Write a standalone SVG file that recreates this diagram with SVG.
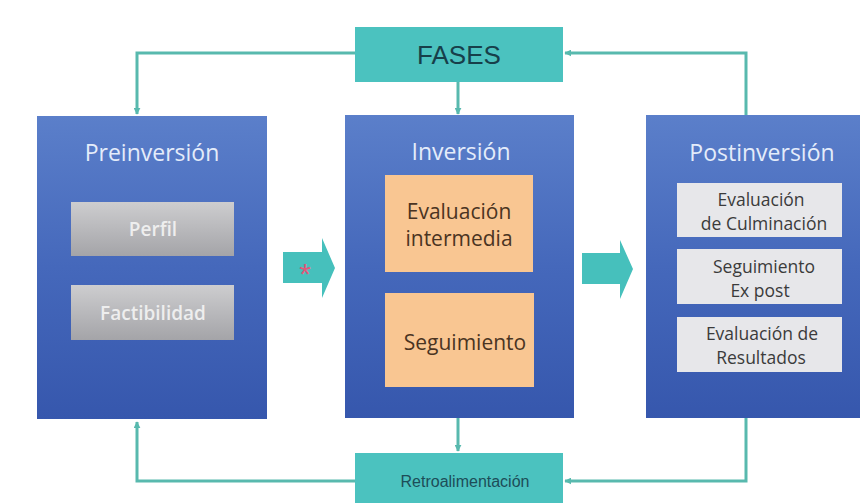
<svg xmlns="http://www.w3.org/2000/svg" width="864" height="503" viewBox="0 0 864 503">
  <defs>
    <linearGradient id="blueGrad" x1="0" y1="0" x2="0" y2="1">
      <stop offset="0" stop-color="#5b7fca"/>
      <stop offset="0.5" stop-color="#4568bb"/>
      <stop offset="1" stop-color="#3657ad"/>
    </linearGradient>
    <linearGradient id="grayGrad" x1="0" y1="0" x2="0" y2="1">
      <stop offset="0" stop-color="#cdcdcf"/>
      <stop offset="1" stop-color="#a4a4a8"/>
    </linearGradient>
    <marker id="ah" viewBox="0 0 10 10" refX="9" refY="5" markerWidth="7" markerHeight="7" markerUnits="userSpaceOnUse" orient="auto">
      <path d="M0,0 L10,5 L0,10 z" fill="#58b9ae"/>
    </marker>
    <style>
      .phase { fill: url(#blueGrad); }
      .title { font-family: "Open Sans", "Liberation Sans", sans-serif; font-size: 23px; fill: #e4ecfa; text-anchor: middle; }
      .gray { fill: url(#grayGrad); }
      .grayTxt { font-family: "Open Sans", "Liberation Sans", sans-serif; font-size: 19px; font-weight: 600; fill: #eeeeee; text-anchor: middle; }
      .orange { fill: #f9c692; }
      .orangeTxt { font-family: "Open Sans", "Liberation Sans", sans-serif; font-size: 21px; font-weight: 500; fill: #4a3422; text-anchor: middle; }
      .light { fill: #e7e7ea; }
      .lightTxt { font-family: "Open Sans", "Liberation Sans", sans-serif; font-size: 17.5px; fill: #3b3b3b; text-anchor: middle; }
      .teal { fill: #4bc2bf; }
      .conn { fill: none; stroke: #58b9ae; stroke-width: 3; marker-end: url(#ah); }
      .block { fill: #46c0bc; }
    </style>
  </defs>

  <rect width="864" height="503" fill="#ffffff"/>

  <g id="connectors">
    <path class="conn" d="M355,53 H137 V114"/>
    <path class="conn" d="M458,82 V114"/>
    <path class="conn" d="M746,116 V53 H565"/>
    <path class="conn" d="M458,418 V451"/>
    <path class="conn" d="M355,481 H137 V422"/>
    <path class="conn" d="M746,418 V481 H565"/>
  </g>

  <g id="fases">
    <rect class="teal" x="355" y="27" width="208" height="55"/>
    <text x="459" y="64" font-family="Liberation Sans, Arial, sans-serif" font-size="26" fill="#173f4a" text-anchor="middle">FASES</text>
  </g>

  <g id="preinversion">
    <rect class="phase" x="37" y="116" width="230" height="303"/>
    <text class="title" x="152" y="161">Preinversión</text>
  </g>
  <g id="perfil">
    <rect class="gray" x="71" y="202" width="163" height="54"/>
    <text class="grayTxt" x="153" y="236">Perfil</text>
  </g>
  <g id="factibilidad">
    <rect class="gray" x="71" y="285" width="163" height="55"/>
    <text class="grayTxt" x="153" y="320">Factibilidad</text>
  </g>

  <g id="arrow1">
    <path class="block" d="M283,252 H322 V238 L335,268 L322,298 V283 H283 z"/>
    <text x="305" y="284" font-family="Liberation Sans, Arial, sans-serif" font-size="30" fill="#e0587a" text-anchor="middle">*</text>
  </g>

  <g id="inversion">
    <rect class="phase" x="345" y="115" width="229" height="303"/>
    <text class="title" x="461" y="160">Inversión</text>
  </g>
  <g id="evaluacion-intermedia">
    <rect class="orange" x="385" y="175" width="148" height="97"/>
    <text class="orangeTxt" x="459" y="219">Evaluación</text>
    <text class="orangeTxt" x="459" y="246">intermedia</text>
  </g>
  <g id="seguimiento">
    <rect class="orange" x="385" y="293" width="149" height="94"/>
    <text class="orangeTxt" x="465" y="350">Seguimiento</text>
  </g>

  <g id="arrow2">
    <path class="block" d="M582,253 H620 V240 L633,269 L620,299 V284 H582 z"/>
  </g>

  <g id="postinversion">
    <rect class="phase" x="646" y="115" width="214" height="303"/>
    <text class="title" x="762" y="161">Postinversión</text>
  </g>
  <g id="evaluacion-culminacion">
    <rect class="light" x="677" y="183" width="165" height="54"/>
    <text class="lightTxt" x="761" y="206">Evaluación</text>
    <text class="lightTxt" x="764" y="230">de Culminación</text>
  </g>
  <g id="seguimiento-expost">
    <rect class="light" x="677" y="249" width="165" height="55"/>
    <text class="lightTxt" x="764" y="273">Seguimiento</text>
    <text class="lightTxt" x="760" y="297">Ex post</text>
  </g>
  <g id="evaluacion-resultados">
    <rect class="light" x="677" y="317" width="165" height="55"/>
    <text class="lightTxt" x="762" y="340">Evaluación de</text>
    <text class="lightTxt" x="761" y="364">Resultados</text>
  </g>

  <g id="retroalimentacion">
    <rect class="teal" x="355" y="453" width="208" height="50"/>
    <text x="465" y="487" font-family="Liberation Sans, Arial, sans-serif" font-size="16" fill="#1d4d58" text-anchor="middle">Retroalimentación</text>
  </g>
</svg>
